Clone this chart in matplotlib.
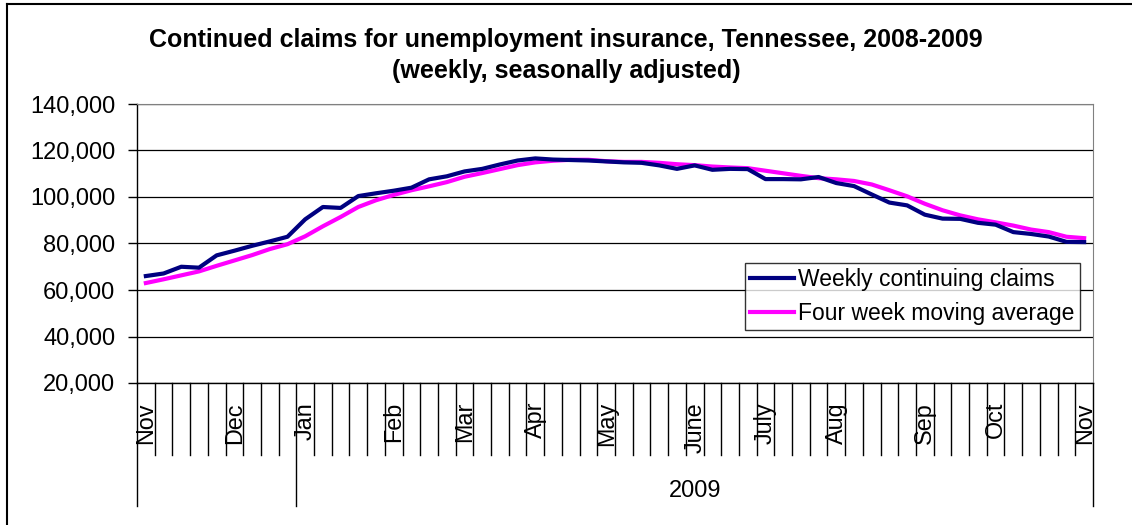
import matplotlib
matplotlib.use("Agg")
import matplotlib.pyplot as plt
import matplotlib.ticker as mticker
import matplotlib.transforms as mtransforms
from matplotlib.lines import Line2D

plt.rcParams['font.family'] = ['Liberation Sans', 'DejaVu Sans']

# weekly data, first week of Nov 2008 through first week of Nov 2009
weekly_claims = [66000, 67100, 70000, 69600, 74900, 76900, 79000, 80900, 82900, 90400,
                 95700, 95300, 100400, 101600, 102700, 104000, 107600, 108900, 111000, 112100,
                 114000, 115700, 116600, 116100, 115900, 115700, 115300, 114900, 114700, 113600,
                 112100, 113600, 111700, 112100, 112000, 107700, 107700, 107600, 108600, 106000,
                 104700, 101100, 97600, 96400, 92400, 90700, 90600, 88900, 88100, 84900,
                 84100, 83000, 80700, 80600]
moving_avg = [63000, 64600, 66300, 68000, 70400, 72700, 75000, 77600, 79700, 83100,
              87400, 91400, 95700, 98600, 100900, 102900, 104600, 106400, 108700, 110300,
              112000, 113700, 114900, 115600, 116000, 116000, 115400, 115100, 115100, 114700,
              114100, 113700, 113100, 112700, 112400, 111300, 110200, 109100, 108100, 107600,
              106900, 105400, 102900, 100300, 97100, 94300, 92100, 90400, 89100, 87700,
              86000, 84900, 82900, 82300]
month_labels = {0: 'Nov', 5: 'Dec', 9: 'Jan', 14: 'Feb', 18: 'Mar', 22: 'Apr', 26: 'May',
                31: 'June', 35: 'July', 39: 'Aug', 44: 'Sep', 48: 'Oct', 53: 'Nov'}
year_label = '2009'
year_start = 9

W, H = 1132, 525
fig = plt.figure(figsize=(W / 100, H / 100), dpi=100)

def fy(px):
    return 1 - px / H

def fx(px):
    return px / W

ax = fig.add_axes([fx(137), fy(383), fx(1093) - fx(137), fy(104) - fy(383)])
x = list(range(len(weekly_claims)))
ax.plot(x, moving_avg, color='#FF00FF', lw=3, label='Four week moving average', zorder=3)
ax.plot(x, weekly_claims, color='#000080', lw=3, label='Weekly continuing claims', zorder=4)

ax.set_xlim(-0.5, len(x) - 0.5)
ax.set_ylim(20000, 140000)
ax.yaxis.set_major_locator(mticker.MultipleLocator(20000))
ax.yaxis.set_major_formatter(mticker.FuncFormatter(lambda v, p: '{:,.0f}'.format(v)))
ax.tick_params(axis='y', direction='out', length=6.5, width=1, pad=9, labelsize=17)
ax.set_xticks([])
ax.grid(axis='y', color='black', lw=0.9)
ax.set_axisbelow(True)
for s in ['top', 'right']:
    ax.spines[s].set_color('#808080')
for s in ['left', 'bottom']:
    ax.spines[s].set_color('black')
    ax.spines[s].set_linewidth(1)

# category axis drawn by hand: weekly separators, month labels, year level
tr = mtransforms.blended_transform_factory(ax.transData, fig.transFigure)
for b in range(len(x) + 1):
    pos = b - 0.5
    long_line = b in (0, year_start, len(x))
    bottom = 506 if long_line else 455
    ax.plot([pos, pos], [fy(383), fy(bottom)], color='black', lw=1,
            transform=tr, clip_on=False)
for i, lab in month_labels.items():
    ax.text(i, fy(402), lab, rotation=90, ha='center', va='top',
            fontsize=16.8, transform=tr)
ax.text((year_start - 0.5 + len(x) - 0.5) / 2, fy(491), year_label, ha='center',
        va='center', fontsize=17, transform=tr)

handles, labels = ax.get_legend_handles_labels()
leg = fig.legend(handles[::-1], labels[::-1], loc='upper left',
                 bbox_to_anchor=(fx(745), fy(263)), fontsize=16.5, frameon=True,
                 fancybox=False, borderaxespad=0, borderpad=0.22, handlelength=1.9,
                 handletextpad=0.2, labelspacing=0.48)
leg.get_frame().set_edgecolor('black')
leg.get_frame().set_linewidth(1)

fig.text(0.5, fy(40), 'Continued claims for unemployment insurance, Tennessee, 2008-2009',
         ha='center', va='center', fontsize=18, fontweight='bold')
fig.text(0.5, fy(71), '(weekly, seasonally adjusted)',
         ha='center', va='center', fontsize=18, fontweight='bold')

# outer chart border (only top and left are visible)
fig.add_artist(Line2D([fx(7), 1], [fy(4), fy(4)], color='black', lw=1.5))
fig.add_artist(Line2D([fx(7), fx(7)], [fy(4), 0], color='black', lw=1.5))

fig.savefig('out.png', dpi=100)
